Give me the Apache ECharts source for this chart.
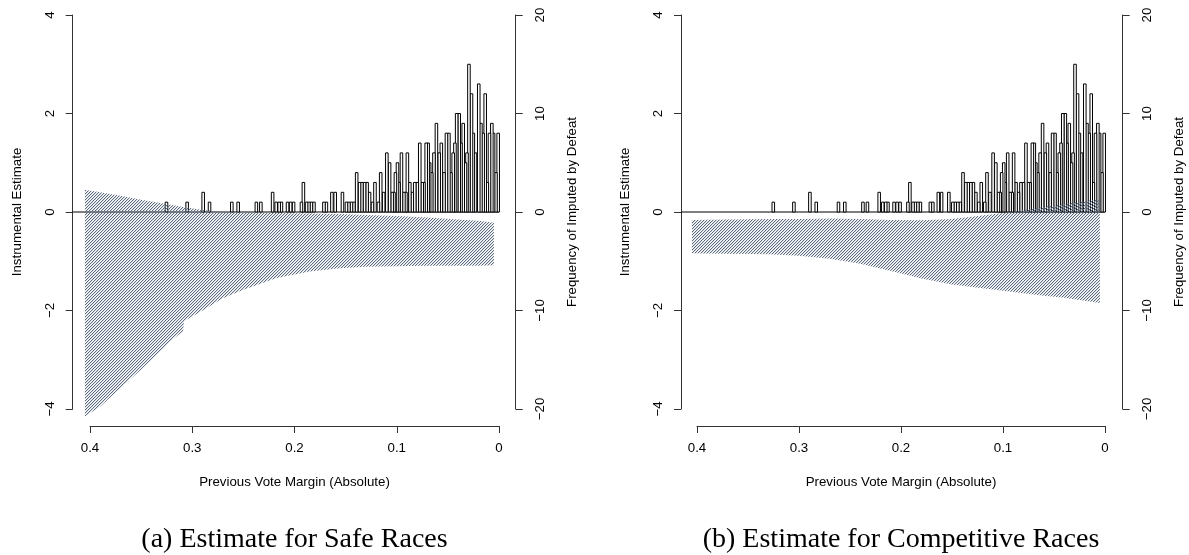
<!DOCTYPE html>
<html>
<head>
<meta charset="utf-8">
<script src="https://cdn.jsdelivr.net/npm/echarts@6/dist/echarts.min.js"></script>
<style>
  html, body { margin: 0; padding: 0; background: #fff; }
  #chart { width: 1189px; height: 555px; }
</style>
</head>
<body>
<div id="chart"></div>
<script>
// Frequency of imputed defeats by previous absolute vote margin (shared by both panels)
const defeatMargins = [
  0.0008, 0.0030, 0.0053, 0.0070, 0.0093, 0.0114, 0.0135, 0.0155, 0.0177, 0.0198,
  0.0230, 0.0251, 0.0269, 0.0294, 0.0313, 0.0328, 0.0350, 0.0372, 0.0389, 0.0414,
  0.0431, 0.0448, 0.0470, 0.0490, 0.0514, 0.0538, 0.0564, 0.0585, 0.0612, 0.0636,
  0.0658, 0.0678, 0.0693, 0.0712, 0.0734, 0.0751, 0.0775, 0.0799, 0.0824, 0.0848,
  0.0872, 0.0896, 0.0910, 0.0930, 0.0954, 0.0977, 0.0993, 0.1013, 0.1027, 0.1045,
  0.1070, 0.1097, 0.1128, 0.1157, 0.1179, 0.1213, 0.1238, 0.1266, 0.1290, 0.1315,
  0.1341, 0.1364, 0.1392, 0.1419, 0.1443, 0.1468, 0.1492, 0.1531, 0.1602, 0.1634,
  0.1688, 0.1712, 0.1810, 0.1835, 0.1859, 0.1882, 0.1913, 0.1932, 0.2009, 0.2038,
  0.2068, 0.2128, 0.2150, 0.2179, 0.2214, 0.2329, 0.2373, 0.2551, 0.2613, 0.2831,
  0.2893, 0.3050, 0.3252
];
const defeatCounts = [
  8, 4, 8, 9, 8, 3, 12, 8, 9, 13,
  6, 8, 12, 15, 6, 5, 9, 7, 10, 10,
  7, 6, 4, 8, 8, 4, 7, 6, 9, 6,
  4, 5, 7, 7, 3, 3, 7, 3, 3, 2,
  3, 6, 2, 2, 6, 3, 5, 4, 2, 2,
  5, 6, 2, 4, 1, 3, 1, 2, 3, 3,
  3, 3, 4, 1, 1, 1, 1, 2, 2, 2,
  1, 1, 1, 1, 1, 1, 3, 1, 1, 1,
  1, 1, 1, 1, 2, 1, 1, 1, 1, 1,
  2, 1, 1
];

// Confidence band of the instrumental estimate, safe races
const safeMargin = [0.405, 0.39, 0.37, 0.35, 0.33, 0.32, 0.309, 0.308, 0.29, 0.27, 0.25, 0.2175, 0.185, 0.156, 0.13, 0.10, 0.07, 0.04, 0.02, 0.005];
const safeLower  = [-4.15, -3.95, -3.57, -3.2, -2.8, -2.6, -2.42, -2.22, -2.0, -1.75, -1.58, -1.34, -1.21, -1.14, -1.11, -1.10, -1.09, -1.09, -1.09, -1.08];
const safeUpper  = [0.45, 0.40, 0.33, 0.25, 0.18, 0.14, 0.10, 0.10, 0.04, 0.0, -0.01, -0.02, -0.03, -0.04, -0.06, -0.08, -0.11, -0.15, -0.18, -0.22];

// Confidence band of the instrumental estimate, competitive races
const compMargin = [0.405, 0.37, 0.33, 0.30, 0.27, 0.24, 0.21, 0.18, 0.15, 0.12, 0.10, 0.08, 0.06, 0.04, 0.02, 0.005];
const compLower  = [-0.84, -0.85, -0.86, -0.89, -0.95, -1.05, -1.2, -1.35, -1.47, -1.55, -1.6, -1.65, -1.7, -1.74, -1.8, -1.85];
const compUpper  = [-0.16, -0.15, -0.14, -0.14, -0.13, -0.14, -0.16, -0.17, -0.14, -0.07, -0.02, 0.04, 0.10, 0.16, 0.22, 0.26];

const captions = ['(a) Estimate for Safe Races', '(b) Estimate for Competitive Races'];
const xTitle = 'Previous Vote Margin (Absolute)';
const yLeftTitle = 'Instrumental Estimate';
const yRightTitle = 'Frequency of Imputed by Defeat';

// ---- drawing ----
const SANS = '"Liberation Sans", Arial, Helvetica, sans-serif';
const SERIF = '"Liberation Serif", "Times New Roman", serif';
const FS = 13.3;
const AXIS_COL = '#333';
const BAR_W = 0.0025;
const GRID_TOP = 15, GRID_H = 394;

// fine diagonal hatching used for the confidence bands
const hatch = document.createElement('canvas');
hatch.width = 3; hatch.height = 3;
const hg = hatch.getContext('2d');
hg.fillStyle = '#5d6c80';
hg.fillRect(2, 0, 1, 1); hg.fillRect(1, 1, 1, 1); hg.fillRect(0, 2, 1, 1);
hg.fillStyle = 'rgba(120,134,152,0.3)';
hg.fillRect(0, 0, 1, 1); hg.fillRect(2, 1, 1, 1); hg.fillRect(1, 2, 1, 1);

const minusFmt = v => String(v).replace('-', '\u2212');

const panels = [
  { left: 90,  width: 409, leftOff: 17.3, rightOff: 16.7, band: [safeMargin, safeLower, safeUpper] },
  { left: 697, width: 408, leftOff: 16,   rightOff: 17.7, band: [compMargin, compLower, compUpper] }
];

const grid = [], xAxis = [], yAxis = [], series = [], graphic = [];

panels.forEach((p, i) => {
  grid.push({ left: p.left, top: GRID_TOP, width: p.width, height: GRID_H, outerBoundsMode: 'none' });
  const lineStyle = { color: AXIS_COL, width: 1 };
  xAxis.push({
    gridIndex: i, type: 'value', min: 0, max: 0.4, interval: 0.1, inverse: true,
    position: 'bottom', offset: 17,
    axisLine: { show: true, onZero: false, lineStyle },
    axisTick: { show: true, length: 7, lineStyle },
    axisLabel: { margin: 16, color: '#000', fontSize: FS, fontFamily: SANS, showMinLabel: true, showMaxLabel: true },
    splitLine: { show: false },
    name: xTitle, nameLocation: 'middle', nameGap: 50,
    nameTextStyle: { color: '#000', fontSize: FS, fontFamily: SANS }
  });
  yAxis.push({
    gridIndex: i, type: 'value', min: -4, max: 4, interval: 2,
    position: 'left', offset: p.leftOff,
    axisLine: { show: true, onZero: false, lineStyle },
    axisTick: { show: true, length: 7, lineStyle },
    axisLabel: { rotate: 90, margin: 16, color: '#000', fontSize: FS, fontFamily: SANS, formatter: minusFmt, showMinLabel: true, showMaxLabel: true },
    splitLine: { show: false },
    name: yLeftTitle, nameLocation: 'middle', nameRotate: 90, nameGap: 49,
    nameTextStyle: { color: '#000', fontSize: FS, fontFamily: SANS }
  });
  yAxis.push({
    gridIndex: i, type: 'value', min: -20, max: 20, interval: 10,
    position: 'right', offset: p.rightOff,
    axisLine: { show: true, onZero: false, lineStyle },
    axisTick: { show: true, length: 7, lineStyle },
    axisLabel: { rotate: 90, margin: 18, color: '#000', fontSize: FS, fontFamily: SANS, formatter: minusFmt, showMinLabel: true, showMaxLabel: true },
    splitLine: { show: false },
    name: yRightTitle, nameLocation: 'middle', nameRotate: 90, nameGap: 50,
    nameTextStyle: { color: '#000', fontSize: FS, fontFamily: SANS }
  });

  const yL = 2 * i, yR = 2 * i + 1;

  // horizontal reference line at zero, from the left axis to the zero margin
  series.push({
    type: 'custom', xAxisIndex: i, yAxisIndex: yL, z: 1, silent: true,
    data: [[0, 0]],
    renderItem: (params, api) => {
      const r = api.coord([0, 0]);
      return { type: 'line', shape: { x1: p.left - p.leftOff, y1: r[1], x2: r[0], y2: r[1] },
               style: { stroke: '#000', lineWidth: 1 } };
    }
  });

  // histogram of imputed defeats on the right-hand axis
  series.push({
    type: 'custom', xAxisIndex: i, yAxisIndex: yR, z: 2, silent: true, clip: false,
    data: defeatMargins.map((m, k) => [m, defeatCounts[k]]),
    encode: { x: 0, y: 1 },
    renderItem: (params, api) => {
      const m = api.value(0), c = api.value(1);
      const a = api.coord([m - BAR_W / 2, 0]);
      const b = api.coord([m + BAR_W / 2, c]);
      return { type: 'rect',
               shape: { x: Math.min(a[0], b[0]), y: b[1], width: Math.abs(a[0] - b[0]), height: a[1] - b[1] },
               style: { fill: '#fff', stroke: '#000', lineWidth: 1 } };
    }
  });

  // hatched confidence band on the left-hand axis
  const [bm, lo, hi] = p.band;
  series.push({
    type: 'custom', xAxisIndex: i, yAxisIndex: yL, z: 3, silent: true, clip: false,
    data: bm.map((m, k) => [m, lo[k], hi[k]]),
    encode: { x: 0, y: [1, 2] },
    renderItem: (params, api) => {
      if (params.dataIndex !== 0) return null;
      const pts = [];
      for (let k = 0; k < bm.length; k++) pts.push(api.coord([bm[k], hi[k]]));
      for (let k = bm.length - 1; k >= 0; k--) pts.push(api.coord([bm[k], lo[k]]));
      return { type: 'polygon', shape: { points: pts },
               style: { fill: { image: hatch, repeat: 'repeat' }, stroke: null } };
    }
  });

  graphic.push({
    type: 'text', x: p.left + p.width / 2, y: 540,
    style: { text: captions[i], font: '28px ' + SERIF, fill: '#000', textAlign: 'center', textVerticalAlign: 'middle' }
  });
});

const chart = echarts.init(document.getElementById('chart'), null, { renderer: 'canvas' });
chart.setOption({
  animation: false,
  backgroundColor: '#fff',
  grid, xAxis, yAxis, series, graphic
});
</script>
</body>
</html>
